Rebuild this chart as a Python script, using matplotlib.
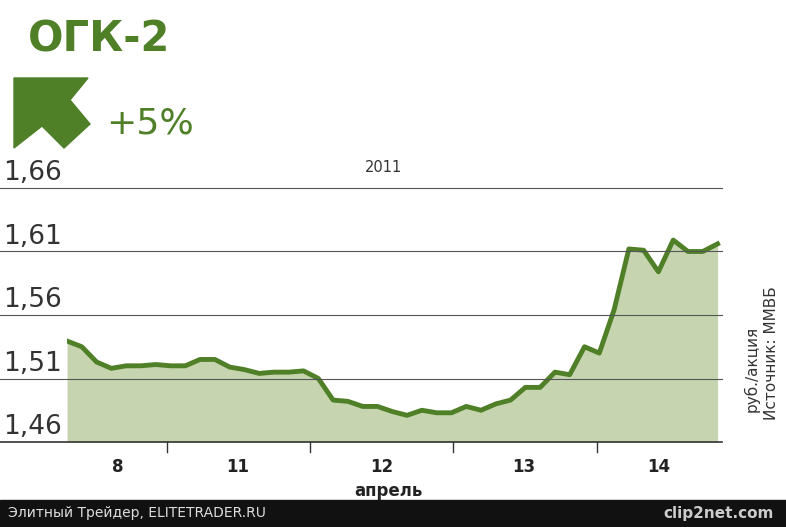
import matplotlib.pyplot as plt
import numpy as np
from matplotlib.patches import Polygon, Rectangle

# price, rub per share, sampled through 8-14 April 2011
prices = [1.5395, 1.535, 1.523, 1.518, 1.520, 1.520, 1.521, 1.520, 1.520, 1.525,
          1.525, 1.519, 1.517, 1.514, 1.515, 1.515, 1.516, 1.510, 1.493, 1.492,
          1.488, 1.488, 1.484, 1.481, 1.485, 1.483, 1.483, 1.488, 1.485, 1.490,
          1.493, 1.503, 1.503, 1.515, 1.513, 1.535, 1.530, 1.564, 1.612, 1.611,
          1.594, 1.619, 1.610, 1.610, 1.616]
day_labels = ['8', '11', '12', '13', '14']
day_label_px = [118, 238, 382, 524, 659]
tick_px = [167, 310, 453, 597]
yticks = [1.46, 1.51, 1.56, 1.61, 1.66]

green = '#4f7f27'
fill = '#c6d5b0'
W, H = 786, 527
narrow = ['Liberation Sans Narrow', 'DejaVu Sans']

def fx(px):
    return px / W

def fy(py):
    return 1 - py / H

fig = plt.figure(figsize=(7.86, 5.27), dpi=100)
ax = fig.add_axes([fx(67), fy(442), fx(722) - fx(67), fy(188) - fy(442)])
x = np.arange(len(prices))
ax.fill_between(x, 1.46, prices, color=fill, lw=0)
ax.plot(x, prices, color=green, lw=3.5, solid_joinstyle='round')
ax.set_xlim(0, 44.3)
ax.set_ylim(1.46, 1.66)
ax.axis('off')
for yt in yticks:
    yf = fy(442) + (yt - 1.46) / 0.2 * (fy(188) - fy(442))
    fig.add_artist(plt.Line2D([0, fx(722)], [yf, yf],
                              color='#555555' if yt > 1.46 else '#333333',
                              lw=0.8 if yt > 1.46 else 1.2, zorder=0.5))
    fig.text(fx(3), yf + 0.003, f'{yt:.2f}'.replace('.', ','), fontsize=19,
             color='#333333', ha='left', va='bottom', family=narrow)
for t in tick_px:
    fig.add_artist(plt.Line2D([fx(t), fx(t)], [fy(442), fy(452)],
                              color='#333333', lw=1))
for px, lab in zip(day_label_px, day_labels):
    fig.text(fx(px), fy(467), lab, ha='center', va='center', fontsize=12,
             fontweight='bold', color='#222222')
fig.text(fx(388), fy(491), 'апрель', ha='center', va='center', fontsize=12,
         fontweight='bold', color='#222222')
fig.text(fx(384), fy(167), '2011', ha='center', va='center', fontsize=10.5,
         color='#333333')

fig.text(fx(752), 0.30, 'руб./акция', rotation=90, ha='center', va='center',
         fontsize=11, color='#333333')
fig.text(fx(772), 0.33, 'Источник: ММВБ', rotation=90, ha='center', va='center',
         fontsize=11, color='#333333')

fig.text(fx(28), fy(40), 'ОГК-2', fontsize=30, fontweight='bold', color=green,
         ha='left', va='center')
fig.text(fx(106), fy(124), '+5%', fontsize=26, color=green, ha='left',
         va='center', family=narrow)
arrow_px = [(14, 78), (88, 78), (70, 100), (90, 124), (64, 148), (42, 126), (14, 148)]
fig.patches.append(Polygon([(fx(a), fy(b)) for a, b in arrow_px], closed=True,
                           transform=fig.transFigure, color=green))

fig.patches.append(Rectangle((0, 0), 1, 0.052, transform=fig.transFigure,
                             color='#111111'))
fig.text(0.01, 0.026, 'Элитный Трейдер, ELITETRADER.RU', fontsize=10,
         color='#dddddd', ha='left', va='center')
fig.text(0.985, 0.026, 'clip2net.com', fontsize=11, color='#cccccc',
         ha='right', va='center', fontweight='bold')
fig.savefig('out.png', dpi=100)
